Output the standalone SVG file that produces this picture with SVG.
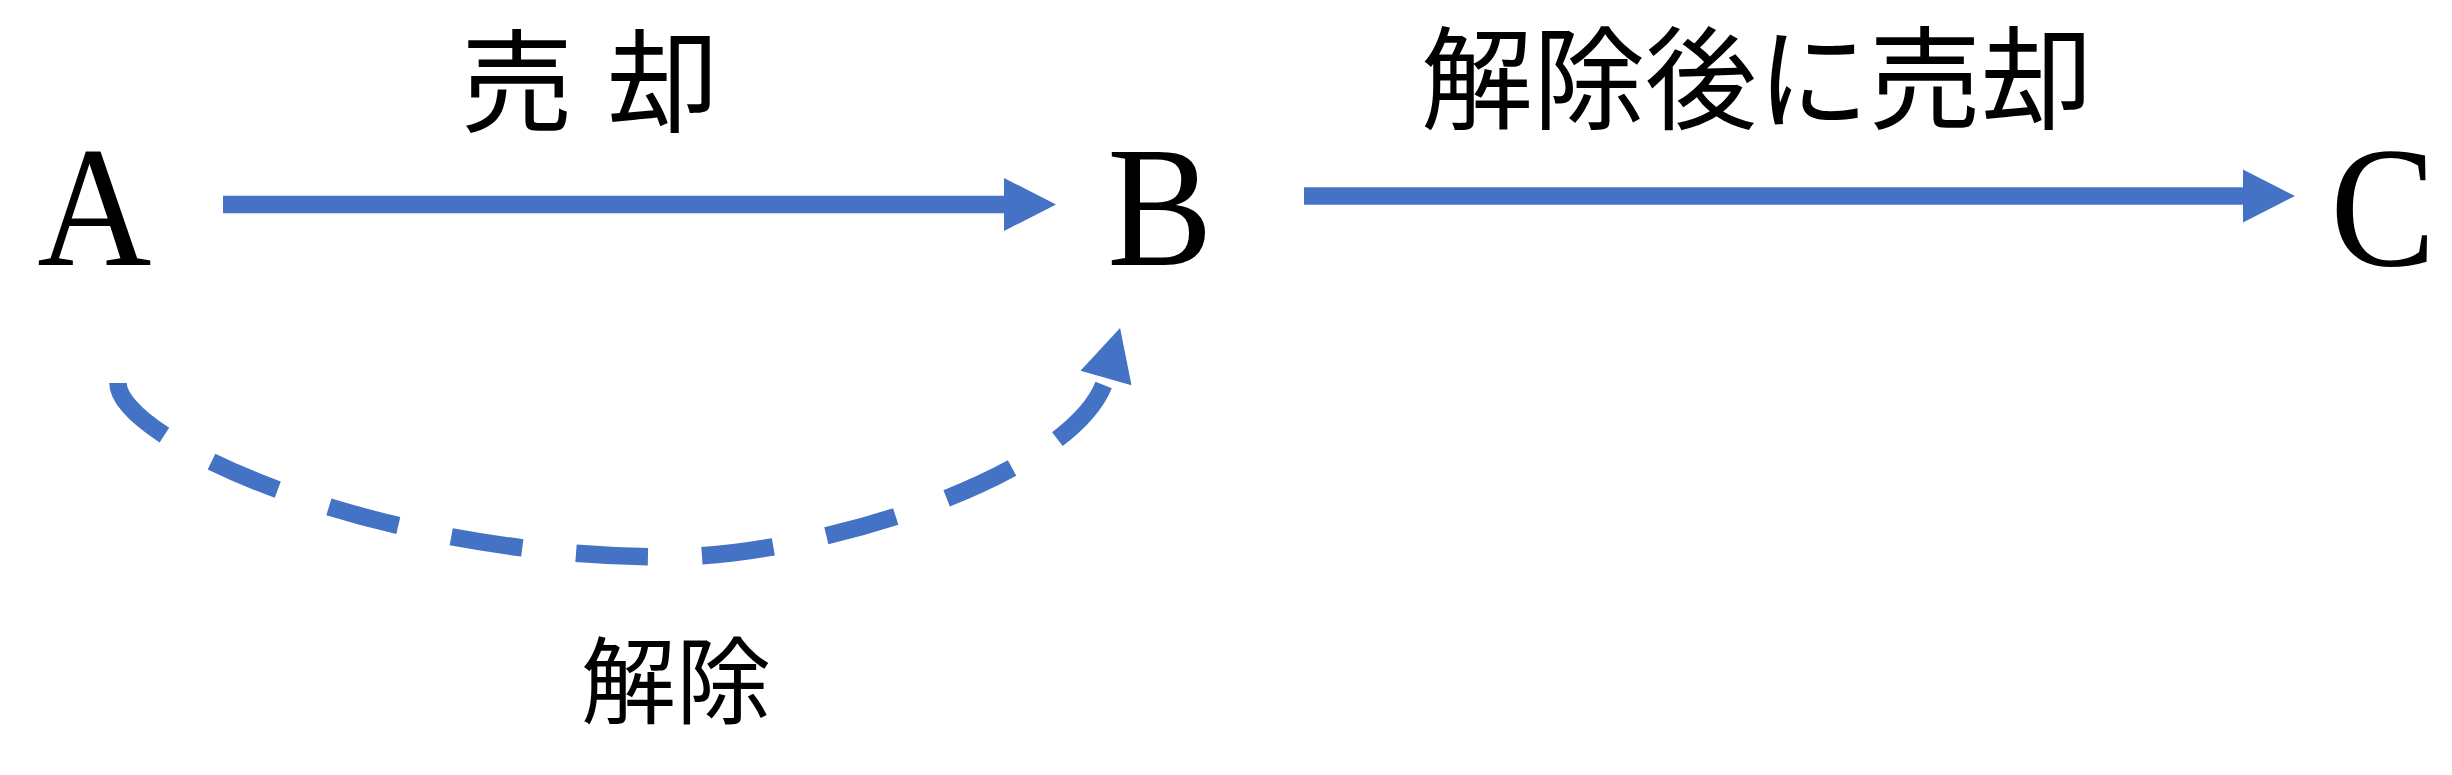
<svg xmlns="http://www.w3.org/2000/svg" width="2452" height="775" viewBox="0 0 2452 775">
<style>
.node{font-family:"Liberation Serif","Times New Roman",serif;font-size:172px;fill:#000;text-anchor:middle}
.lbl{font-family:"Liberation Serif","Noto Sans CJK JP",serif;fill:#000;text-anchor:middle}
.conn{fill:none;stroke:#4472C4;stroke-width:17.5;stroke-linecap:butt}
</style>
<defs>
<marker id="head" markerUnits="userSpaceOnUse" markerWidth="54" markerHeight="54" refX="0" refY="26.5" orient="auto" overflow="visible">
<path d="M0,0 L52,26.5 L0,53 Z" fill="#4472C4"/>
</marker>
</defs>
<rect width="2452" height="775" fill="#fff"/>
<g id="connectors">
<path id="e-ab" class="conn" d="M223,204.5 L1004,204.5" marker-end="url(#head)"/>
<path id="e-bc" class="conn" d="M1304,196 L2243,196" marker-end="url(#head)"/>
<path id="e-ab-cancel" class="conn" stroke-dasharray="72 54" d="M118,383 C118,438 368,557 668,557 C818,557 1079,474 1106,378" marker-end="url(#head)"/>
</g>
<g id="node-A"><text class="node" transform="translate(94.5,265) scale(0.92,1)">A</text></g>
<g id="node-B"><text class="node" transform="translate(1160,265) scale(0.92,1)">B</text></g>
<g id="node-C"><text class="node" transform="translate(2383,265) scale(0.92,1)">C</text></g>
<g id="label-sale"><text class="lbl" x="607" y="124" font-size="112" letter-spacing="34">売却</text></g>
<g id="label-sale-after"><text class="lbl" x="1757" y="121" font-size="112">解除後に売却</text></g>
<g id="label-cancel"><text class="lbl" x="676" y="717" font-size="95">解除</text></g>
</svg>
